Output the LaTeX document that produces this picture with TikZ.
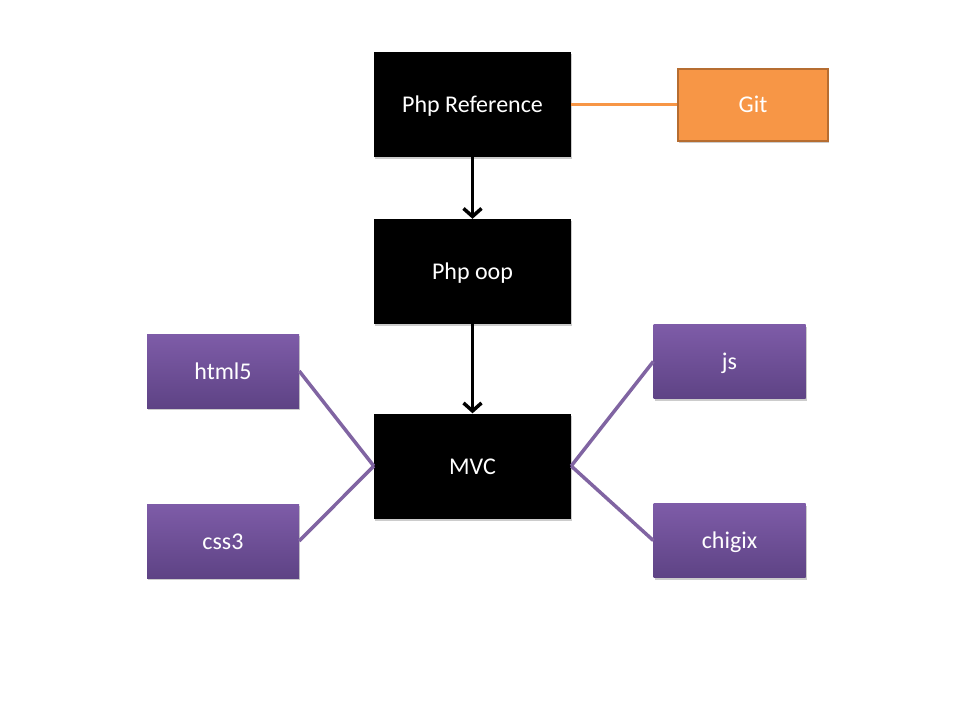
\documentclass[tikz,border=0pt]{standalone}
\usepackage{fontspec}
\setmainfont{Carlito}
\usetikzlibrary{arrows.meta,shadows}
\definecolor{orng}{HTML}{F79646}
\definecolor{orngdark}{HTML}{B66D31}
\definecolor{purtop}{HTML}{7E5CA8}
\definecolor{purbot}{HTML}{5E4385}
\definecolor{purline}{HTML}{8064A2}
\begin{document}
\begin{tikzpicture}[x=1pt,y=-1pt,
  txt/.style={text=white,inner sep=0pt,font=\fontsize{24}{28}\selectfont,text height=18pt,text depth=2pt},
  blk/.style={txt,fill=black,minimum width=197pt,minimum height=105pt,
    drop shadow={shadow xshift=1pt,shadow yshift=-2pt,fill=black!40,opacity=0.5}},
  purp/.style={txt,top color=purtop,bottom color=purbot,draw=none,minimum width=152pt,minimum height=74pt,
    drop shadow={shadow xshift=1pt,shadow yshift=-2pt,fill=black!40,opacity=0.5}},
  orbox/.style={txt,fill=orng,draw=orngdark,line width=2pt,minimum width=150pt,minimum height=72pt,
    drop shadow={shadow xshift=1pt,shadow yshift=-2pt,fill=black!40,opacity=0.5}},
  arr/.style={line width=3.5pt,-{Straight Barb[length=8pt,width=18pt,line width=3.5pt]}},
  pline/.style={draw=purline,line width=3.5pt},
  oline/.style={draw=orng,line width=3.5pt}
]
\useasboundingbox (0,0) rectangle (960,720);
\node[blk] (ref) at (472.5,104.5) {Php Reference};
\node[orbox] (git) at (753,104.5) {Git};
\node[blk] (oop) at (472.5,271.5) {Php oop};
\node[blk] (mvc) at (472.5,466) {MVC};
\node[purp] (html) at (223,371) {html5};
\node[purp] (css) at (223,541) {css3};
\node[purp] (js) at (729.5,361.5) {js};
\node[purp] (chi) at (729.5,540.5) {chigix};
\draw[arr] (ref.south) -- (oop.north);
\draw[arr] (oop.south) -- (mvc.north);
\draw[oline] (ref.east) -- (git.west);
\draw[pline] (html.east) -- (mvc.west);
\draw[pline] (css.east) -- (mvc.west);
\draw[pline] (js.west) -- (mvc.east);
\draw[pline] (chi.west) -- (mvc.east);
\end{tikzpicture}
\end{document}
